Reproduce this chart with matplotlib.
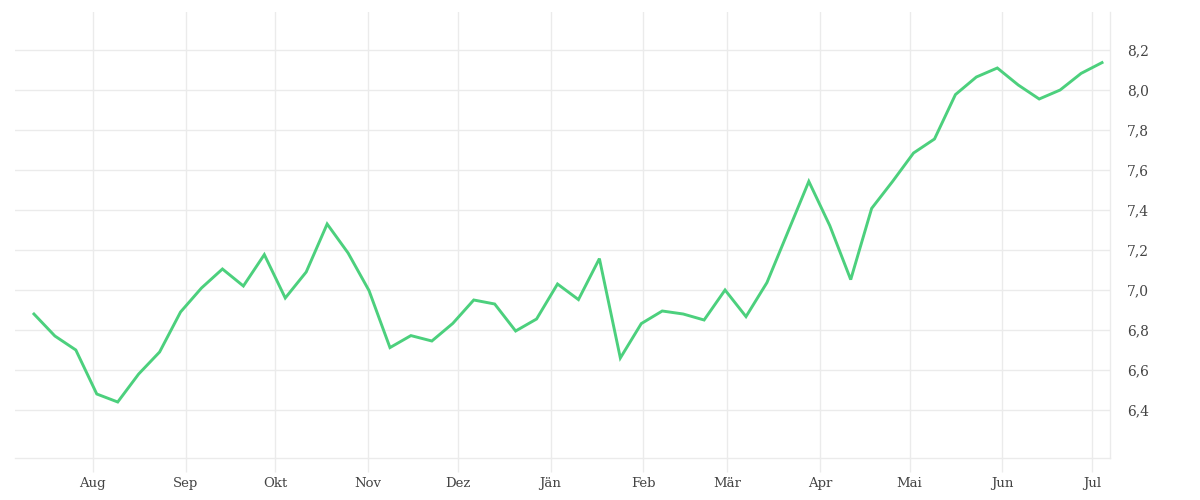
import datetime
import matplotlib
matplotlib.use('Agg')
import matplotlib.pyplot as plt
from matplotlib.ticker import FuncFormatter

# weekly values
start_date = datetime.datetime(2022, 7, 12, 8)
values = [
    6.88, 6.77, 6.70, 6.48, 6.44, 6.58, 6.69, 6.89, 7.01, 7.105,
    7.02, 7.177, 6.96, 7.09, 7.33, 7.185, 6.997, 6.712, 6.772, 6.745,
    6.833, 6.95, 6.93, 6.795, 6.855, 7.03, 6.952, 7.157, 6.66, 6.832,
    6.895, 6.88, 6.85, 7.0, 6.867, 7.037, 7.29, 7.543, 7.322, 7.052,
    7.408, 7.543, 7.685, 7.755, 7.977, 8.065, 8.11, 8.025, 7.955, 8.0,
    8.083, 8.137,
]
dates = [start_date + datetime.timedelta(days=7 * i) for i in range(len(values))]

month_ticks = [datetime.date(2022, m, 1) for m in range(8, 13)] + \
              [datetime.date(2023, m, 1) for m in range(1, 8)]
month_labels = ['Aug', 'Sep', 'Okt', 'Nov', 'Dez', 'Jän', 'Feb', 'Mär', 'Apr', 'Mai', 'Jun', 'Jul']
y_ticks = [6.4, 6.6, 6.8, 7.0, 7.2, 7.4, 7.6, 7.8, 8.0, 8.2]

grid_color = '#ebebeb'
text_color = '#444444'

plt.rcParams['font.family'] = ['DejaVu Serif']

fig = plt.figure(figsize=(12, 5), dpi=100)
ax = fig.add_axes([0.0125, 0.084, 0.9125, 0.892])

ax.plot(dates, values, color='#4cd07d', linewidth=2.1, solid_joinstyle='miter')

ax.set_xlim(datetime.date(2022, 7, 6), datetime.date(2023, 7, 7))
ax.set_ylim(6.16, 8.39)

ax.set_xticks(month_ticks)
ax.set_xticklabels(month_labels)
ax.set_yticks(y_ticks)
ax.yaxis.set_major_formatter(FuncFormatter(lambda v, p: f'{v:.1f}'.replace('.', ',')))
ax.yaxis.tick_right()

ax.grid(True, color=grid_color, linewidth=1)
ax.set_axisbelow(True)
ax.tick_params(axis='x', length=10, width=1, color=grid_color, labelsize=9.5,
               labelcolor=text_color, pad=4)
ax.tick_params(axis='y', length=0, labelsize=10, labelcolor=text_color, pad=12)

for side in ['left', 'top']:
    ax.spines[side].set_visible(False)
for side in ['bottom', 'right']:
    ax.spines[side].set_color(grid_color)
    ax.spines[side].set_linewidth(1)

fig.savefig('out.png', dpi=100, facecolor='white')
